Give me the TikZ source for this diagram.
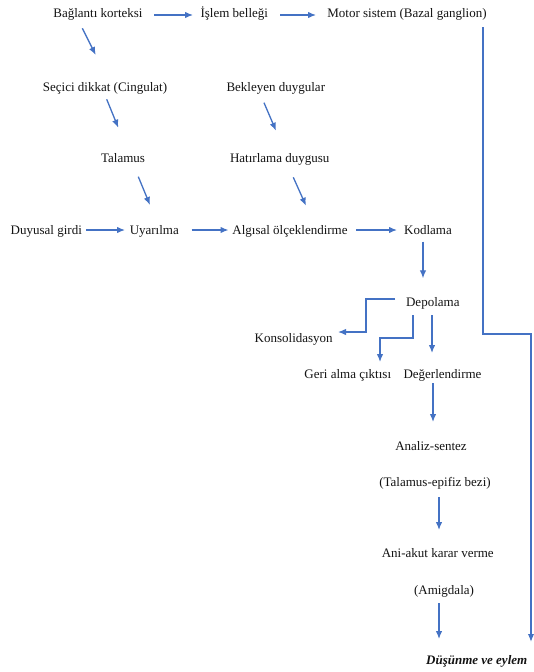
\documentclass[tikz,border=0pt]{standalone}
\usepackage{fontspec}
\setmainfont{Liberation Serif}
\usetikzlibrary{arrows.meta,calc}
\definecolor{arrblue}{HTML}{4472C4}
\begin{document}
\begin{tikzpicture}[x=1pt,y=-1pt,
  lbl/.style={anchor=base,inner sep=0pt,font=\fontsize{13}{15}\selectfont,text=black!92},
  arr/.style={draw=arrblue,line width=1.3pt,-{Latex[length=8pt,width=6.5pt]}},
  longarr/.style={arr,line width=1.5pt}]
\useasboundingbox (0,0) rectangle (534,672);
\fill[white] (0,0) rectangle (534,672);
% nodes
\node[lbl] (bk) at (98,17) {Bağlantı korteksi};
\node[lbl] (ib) at (234.3,17) {İşlem belleği};
\node[lbl] (ms) at (407,17) {Motor sistem (Bazal ganglion)};
\node[lbl] (sd) at (105,91) {Seçici dikkat (Cingulat)};
\node[lbl] (bd) at (275.8,91) {Bekleyen duygular};
\node[lbl] (tl) at (123,162) {Talamus};
\node[lbl] (hd) at (279.7,162) {Hatırlama duygusu};
\node[lbl] (dg) at (46.3,234) {Duyusal girdi};
\node[lbl] (uy) at (154.3,234) {Uyarılma};
\node[lbl] (al) at (290,234) {Algısal ölçeklendirme};
\node[lbl] (kd) at (428,234) {Kodlama};
\node[lbl] (dp) at (432.8,306) {Depolama};
\node[lbl] (ks) at (293.7,342) {Konsolidasyon};
\node[lbl] (ga) at (347.8,378) {Geri alma çıktısı};
\node[lbl] (dr) at (442.5,378) {Değerlendirme};
\node[lbl] (an) at (431,450) {Analiz-sentez};
\node[lbl] (te) at (435,486) {(Talamus-epifiz bezi)};
\node[lbl] (ak) at (437.8,557) {Ani-akut karar verme};
\node[lbl] (am) at (444,594) {(Amigdala)};
\node[lbl,font=\fontsize{13}{15}\selectfont\bfseries\itshape] (de) at (476.7,664) {Düşünme ve eylem};
% connectors
\draw[arr] ($(bk.base)+(56,-2)$) -- ($(ib.base)+(-41.3,-2)$);
\draw[arr] ($(ib.base)+(45.7,-2)$) -- ($(ms.base)+(-91,-2)$);
\draw[arr] ($(bk.base)+(-15.7,11.3)$) -- ($(sd.base)+(-9.3,-36)$);
\draw[arr] ($(sd.base)+(1.7,8.3)$) -- ($(tl.base)+(-4.7,-34.3)$);
\draw[arr] ($(bd.base)+(-11.8,11.7)$) -- ($(hd.base)+(-3.7,-31.3)$);
\draw[arr] ($(tl.base)+(15.3,14.7)$) -- ($(uy.base)+(-4.3,-29)$);
\draw[arr] ($(hd.base)+(13.6,15.3)$) -- ($(al.base)+(16,-28.3)$);
\draw[arr] ($(dg.base)+(39.7,-4)$) -- ($(uy.base)+(-29.3,-4)$);
\draw[arr] ($(uy.base)+(37.4,-4)$) -- ($(al.base)+(-61.5,-4)$);
\draw[arr] ($(al.base)+(66,-4)$) -- ($(kd.base)+(-31,-4)$);
\draw[arr] ($(kd.base)+(-5,7.7)$) -- ($(dp.base)+(-9.8,-27.7)$);
\draw[longarr] ($(ms.base)+(76,10)$) -- ++(0,307) -| ($(de.base)+(54.3,-22)$);
\draw[arr] ($(dp.base)+(-37.8,-7)$) -- ++(-29,0) |- ($(ks.base)+(44.3,-10)$);
\draw[arr] ($(dp.base)+(-19.8,9)$) -- ++(0,23) -| ($(ga.base)+(32.2,-16)$);
\draw[arr] ($(dp.base)+(-0.8,9)$) -- ($(dr.base)+(-10.5,-25)$);
\draw[arr] ($(dr.base)+(-9.5,5)$) -- ($(an.base)+(2,-28)$);
\draw[arr] ($(te.base)+(4,11)$) -- ($(ak.base)+(1.2,-27)$);
\draw[arr] ($(am.base)+(-5,9)$) -- ($(de.base)+(-37.7,-25)$);
\end{tikzpicture}
\end{document}
